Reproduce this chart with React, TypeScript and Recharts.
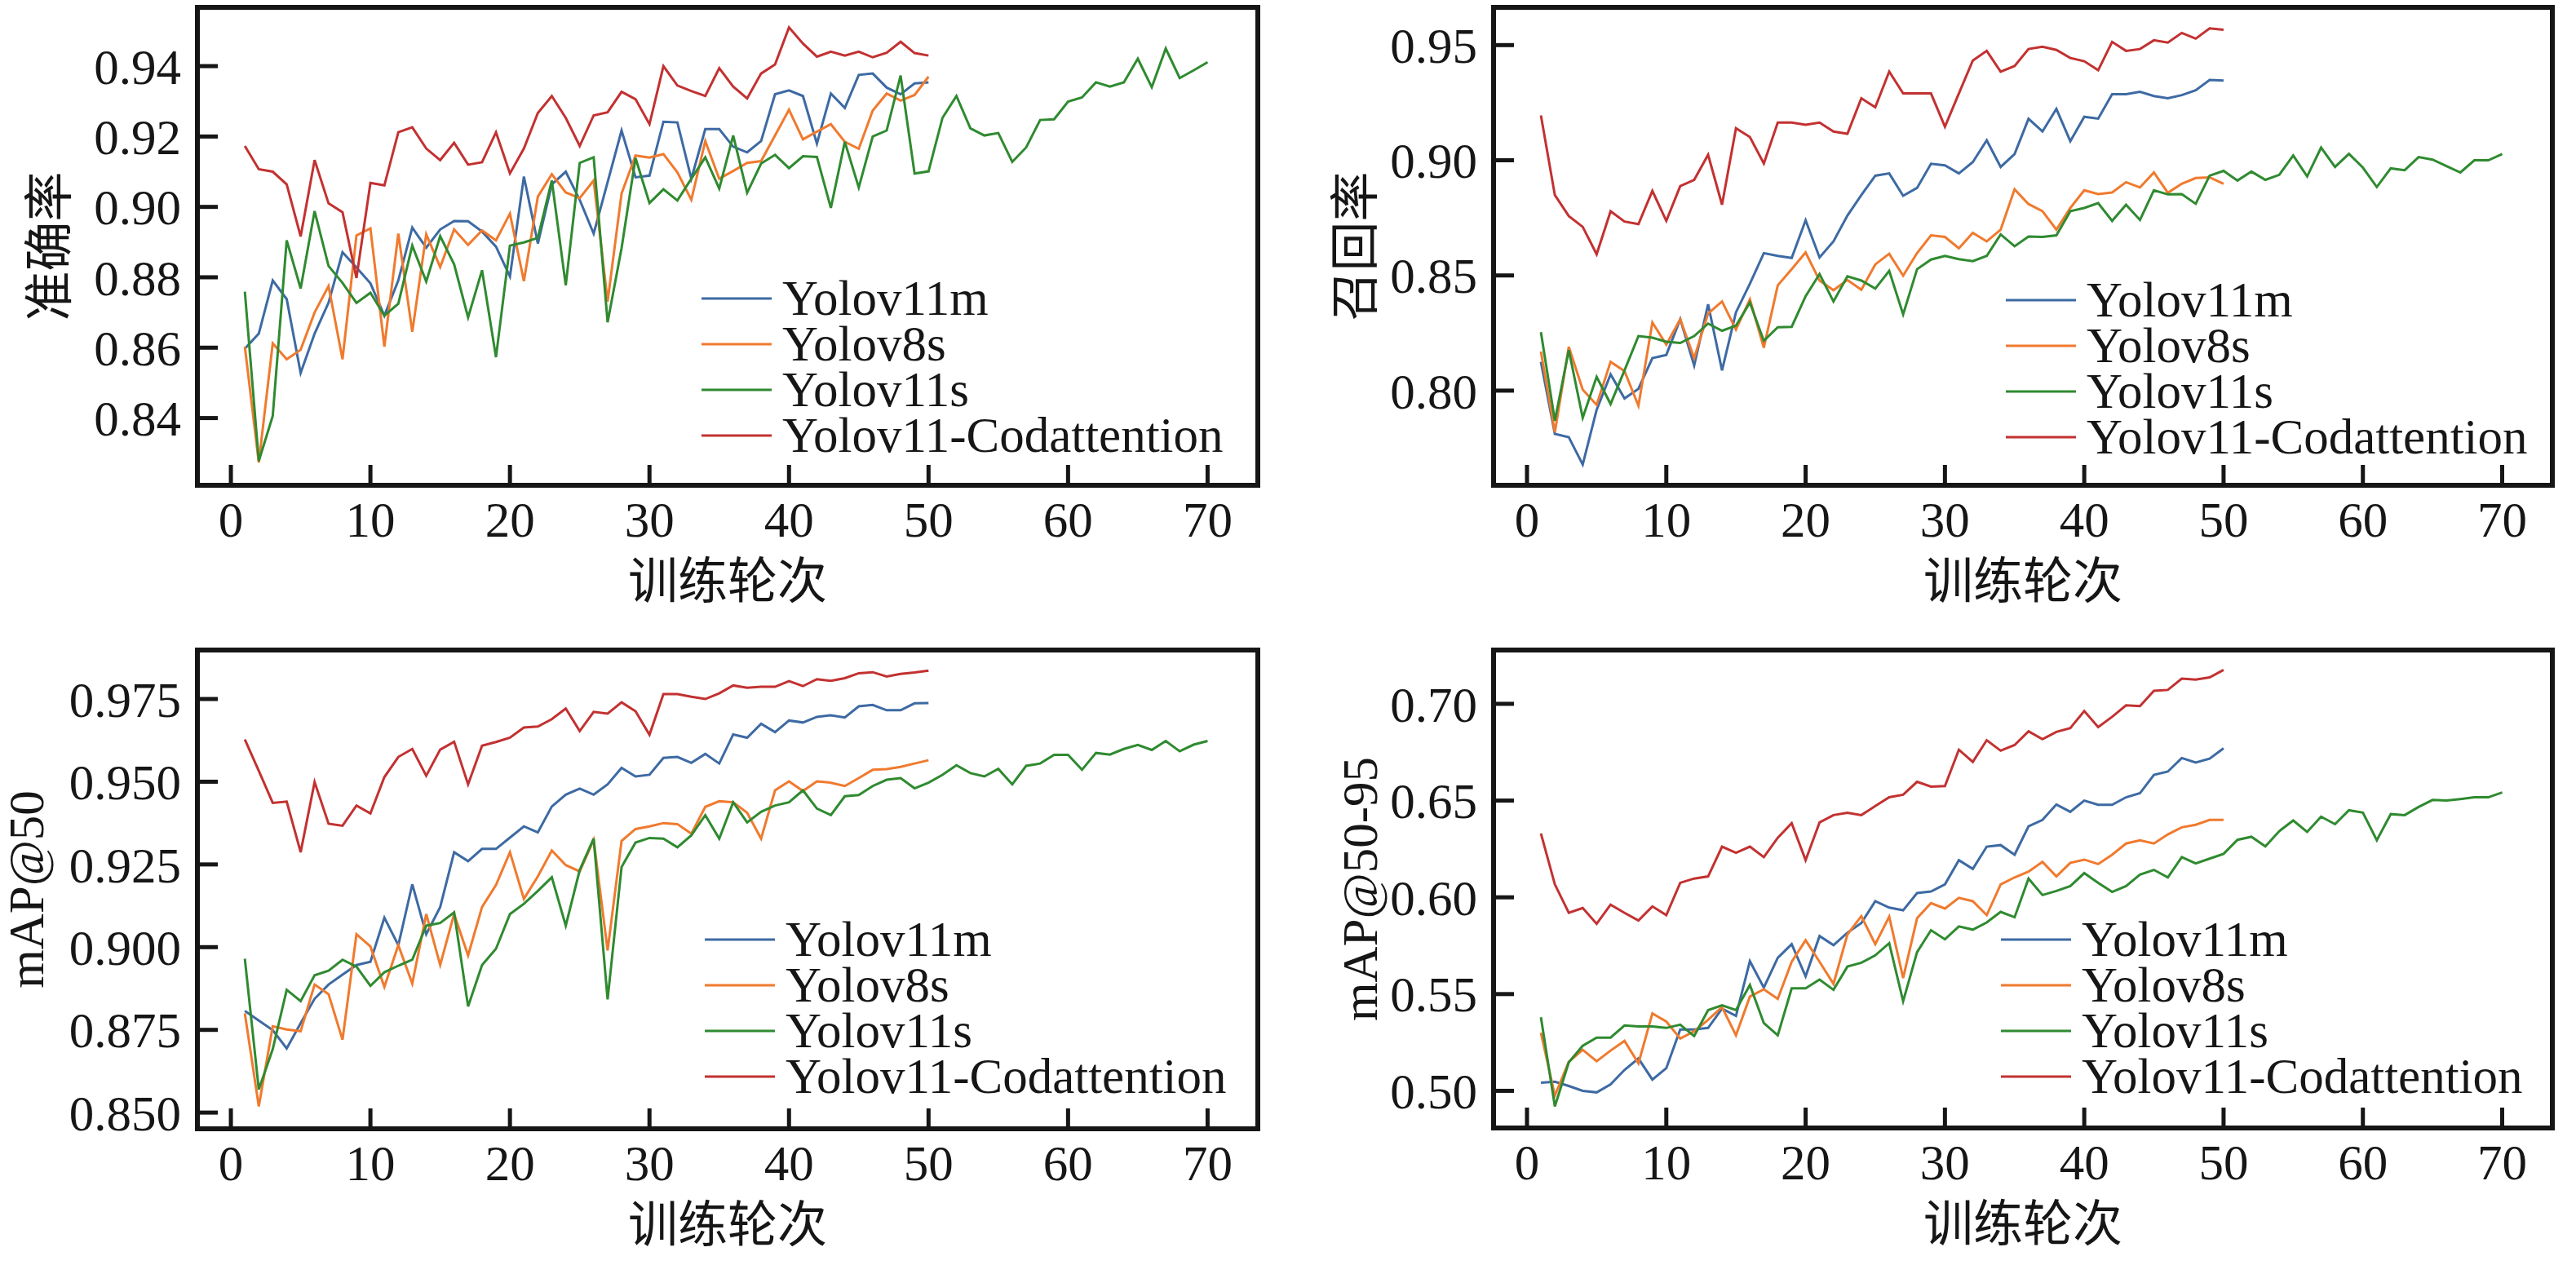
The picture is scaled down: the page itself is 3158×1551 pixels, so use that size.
import React from "react";
import { LineChart, Line, XAxis, YAxis, ReferenceArea, Legend } from "recharts";

// 准确率 (precision)
const precisionV11m = [
  0.8597, 0.864, 0.8791, 0.8738, 0.8528, 0.864, 0.8728, 0.8871, 0.8828, 0.8783,
  0.8691, 0.8791, 0.8941, 0.8884, 0.8936, 0.896, 0.8959, 0.893, 0.8887, 0.8802,
  0.9086, 0.8896, 0.9064, 0.91, 0.902, 0.8924, 0.907, 0.9217, 0.9084, 0.9089,
  0.9242, 0.924, 0.908, 0.9221, 0.9221, 0.9171, 0.9155, 0.9187, 0.932, 0.9331,
  0.9315, 0.918, 0.9322, 0.9281, 0.9375, 0.9379, 0.9339, 0.932, 0.9351, 0.9354,
];
const precisionV8s = [
  0.8603, 0.8274, 0.8612, 0.8567, 0.8594, 0.87, 0.8775, 0.8567, 0.8919, 0.8939,
  0.8603, 0.8924, 0.8645, 0.8922, 0.8829, 0.8936, 0.8892, 0.8933, 0.8905, 0.8981,
  0.8789, 0.9029, 0.9093, 0.9041, 0.9025, 0.9075, 0.8731, 0.9038, 0.9146, 0.914,
  0.915, 0.9098, 0.902, 0.9187, 0.908, 0.9102, 0.9125, 0.913, 0.9203, 0.9276,
  0.9192, 0.9214, 0.9235, 0.9185, 0.9165, 0.9274, 0.9322, 0.9302, 0.9318, 0.937,
];
const precisionV11s = [
  0.8759, 0.8278, 0.8406, 0.8905, 0.8768, 0.8988, 0.8832, 0.8784, 0.8727, 0.8756,
  0.8691, 0.8725, 0.889, 0.8788, 0.8917, 0.8837, 0.8686, 0.882, 0.8573, 0.889,
  0.8899, 0.8912, 0.9075, 0.8777, 0.9125, 0.9141, 0.8672, 0.8883, 0.9139, 0.9011,
  0.905, 0.9018, 0.908, 0.9141, 0.9052, 0.9203, 0.904, 0.9123, 0.9148, 0.911,
  0.9144, 0.9142, 0.8997, 0.9185, 0.9055, 0.92, 0.9217, 0.9373, 0.9095, 0.9101,
  0.9253, 0.9315, 0.9223, 0.9203, 0.921, 0.9128, 0.9169, 0.9247, 0.9249, 0.9299,
  0.9311, 0.9354, 0.9342, 0.9354, 0.9421, 0.934, 0.945, 0.9366, 0.9388, 0.9411,
];
const precisionCod = [
  0.9173, 0.9107, 0.91, 0.9064, 0.8916, 0.9133, 0.901, 0.8985, 0.8798, 0.9068,
  0.9061, 0.9212, 0.9226, 0.9166, 0.9133, 0.9182, 0.912, 0.9127, 0.9212, 0.9095,
  0.9166, 0.9267, 0.9315, 0.9253, 0.9173, 0.926, 0.9269, 0.9327, 0.9306, 0.9235,
  0.94, 0.9345, 0.9329, 0.9315, 0.9394, 0.9342, 0.9308, 0.9379, 0.9405, 0.951,
  0.9464, 0.9427, 0.9441, 0.943, 0.9441, 0.9425, 0.9438, 0.9469, 0.9437, 0.943,
];

// 召回率 (recall)
const recallV11m = [
  0.8125, 0.7812, 0.7798, 0.7679, 0.7917, 0.8071, 0.7966, 0.8008, 0.8141, 0.8155,
  0.831, 0.8109, 0.8375, 0.8088, 0.834, 0.8464, 0.8597, 0.8585, 0.8576, 0.874,
  0.8578, 0.8648, 0.876, 0.8849, 0.8933, 0.8943, 0.8846, 0.888, 0.8985, 0.8978,
  0.8943, 0.8992, 0.9087, 0.8971, 0.9027, 0.918, 0.9125, 0.9223, 0.9083, 0.9189,
  0.9181, 0.9287, 0.9287, 0.9297, 0.9279, 0.9269, 0.9283, 0.9304, 0.9349, 0.9346,
];
const recallV8s = [
  0.817, 0.7819, 0.819, 0.8004, 0.7938, 0.8125, 0.8085, 0.7934, 0.8296, 0.82,
  0.831, 0.8141, 0.8335, 0.8387, 0.8265, 0.8396, 0.8186, 0.8457, 0.8527, 0.86,
  0.8478, 0.8436, 0.848, 0.8438, 0.8548, 0.8594, 0.8499, 0.8597, 0.8674, 0.8667,
  0.8618, 0.8685, 0.8648, 0.8699, 0.8874, 0.881, 0.8779, 0.8699, 0.8793, 0.887,
  0.8853, 0.886, 0.8905, 0.8882, 0.8947, 0.8859, 0.8898, 0.8923, 0.8926, 0.8898,
];
const recallV11s = [
  0.8254, 0.7869, 0.8176, 0.7882, 0.806, 0.7942, 0.8088, 0.8237, 0.823, 0.8212,
  0.8207, 0.8237, 0.8291, 0.826, 0.8282, 0.8382, 0.8216, 0.8275, 0.8277, 0.841,
  0.8506, 0.8387, 0.8496, 0.8478, 0.8443, 0.852, 0.8331, 0.8527, 0.8569, 0.8585,
  0.8571, 0.8562, 0.8585, 0.8678, 0.8627, 0.8669, 0.8667, 0.8674, 0.8779, 0.8793,
  0.8814, 0.8737, 0.8807, 0.8741, 0.887, 0.8852, 0.8853, 0.8811, 0.8933, 0.8954,
  0.8912, 0.8951, 0.8915, 0.8937, 0.9021, 0.893, 0.9055, 0.8971, 0.9028, 0.8968,
  0.8884, 0.8965, 0.8957, 0.9014, 0.9003, 0.8975, 0.8947, 0.9, 0.9, 0.9027,
];
const recallCod = [
  0.9195, 0.8849, 0.8758, 0.8711, 0.8592, 0.8779, 0.8734, 0.8723, 0.8867, 0.8737,
  0.8888, 0.8915, 0.9024, 0.8807, 0.9139, 0.9101, 0.8986, 0.9164, 0.9164, 0.9154,
  0.9164, 0.9125, 0.9115, 0.9269, 0.923, 0.9385, 0.929, 0.929, 0.929, 0.9146,
  0.929, 0.9433, 0.9475, 0.9385, 0.9409, 0.9483, 0.9493, 0.9479, 0.9444, 0.943,
  0.9391, 0.9514, 0.9475, 0.9483, 0.9521, 0.9511, 0.9553, 0.9528, 0.9573, 0.9567,
];

// mAP@50
const map50V11m = [
  0.8807, 0.8778, 0.8749, 0.8694, 0.877, 0.8844, 0.8887, 0.8917, 0.8946, 0.8956,
  0.9089, 0.9006, 0.919, 0.9039, 0.9121, 0.9287, 0.926, 0.9297, 0.9297, 0.9331,
  0.9365, 0.9347, 0.9425, 0.9461, 0.9479, 0.9461, 0.9492, 0.9542, 0.9516, 0.9521,
  0.9572, 0.9575, 0.9557, 0.9584, 0.9555, 0.9643, 0.9633, 0.9675, 0.965, 0.9685,
  0.9679, 0.9696, 0.9701, 0.9694, 0.9728, 0.9732, 0.9716, 0.9716, 0.9737, 0.9738,
];
const map50V8s = [
  0.88, 0.8519, 0.8761, 0.8751, 0.8746, 0.8887, 0.8858, 0.872, 0.9039, 0.9002,
  0.888, 0.9006, 0.889, 0.91, 0.8946, 0.91, 0.8975, 0.9121, 0.9188, 0.9287,
  0.9146, 0.9214, 0.9292, 0.9248, 0.9229, 0.9324, 0.899, 0.9321, 0.9357, 0.9365,
  0.9375, 0.9372, 0.9343, 0.9424, 0.9441, 0.9438, 0.9406, 0.9328, 0.9474, 0.9501,
  0.9472, 0.9501, 0.9497, 0.9487, 0.9511, 0.9536, 0.9538, 0.9545, 0.9555, 0.9565,
];
const map50V11s = [
  0.8965, 0.857, 0.8692, 0.8871, 0.8837, 0.8915, 0.8929, 0.8962, 0.8941, 0.8883,
  0.8924, 0.8944, 0.8962, 0.9065, 0.9073, 0.9105, 0.8821, 0.8946, 0.8995, 0.91,
  0.9131, 0.917, 0.9211, 0.9065, 0.9233, 0.9328, 0.8842, 0.9242, 0.9316, 0.933,
  0.9328, 0.9302, 0.9338, 0.9399, 0.9328, 0.9438, 0.9377, 0.9409, 0.9428, 0.9438,
  0.9474, 0.9419, 0.9399, 0.9456, 0.946, 0.9487, 0.9506, 0.9511, 0.948, 0.9497,
  0.9521, 0.955, 0.9526, 0.9516, 0.9539, 0.9492, 0.9548, 0.9555, 0.9581, 0.9581,
  0.9536, 0.9587, 0.9582, 0.9599, 0.9611, 0.9596, 0.9623, 0.9592, 0.9612, 0.9623,
];
const map50Cod = [
  0.9628, 0.9533, 0.9436, 0.944, 0.9287, 0.9499, 0.9373, 0.9367, 0.9428, 0.9404,
  0.9514, 0.9575, 0.9599, 0.9518, 0.9597, 0.9621, 0.9492, 0.9609, 0.962, 0.9633,
  0.9664, 0.9667, 0.9689, 0.9721, 0.9653, 0.9711, 0.9706, 0.974, 0.9713, 0.9642,
  0.9765, 0.9765, 0.9757, 0.975, 0.9767, 0.9791, 0.9784, 0.9787, 0.9787, 0.9804,
  0.9789, 0.981, 0.9805, 0.9813, 0.9828, 0.9831, 0.9818, 0.9826, 0.983, 0.9836,
];

// mAP@50-95
const map5095V11m = [
  0.5042, 0.5047, 0.5025, 0.5, 0.4992, 0.5033, 0.5108, 0.5167, 0.5058, 0.5117,
  0.5317, 0.5317, 0.5325, 0.5425, 0.5387, 0.567, 0.5533, 0.5687, 0.5758, 0.5592,
  0.58, 0.5753, 0.5817, 0.5867, 0.598, 0.5947, 0.5933, 0.6022, 0.603, 0.6067,
  0.6192, 0.6147, 0.6262, 0.627, 0.622, 0.6367, 0.64, 0.648, 0.6442, 0.65,
  0.6478, 0.6478, 0.6517, 0.6538, 0.6633, 0.665, 0.672, 0.6697, 0.6717, 0.677,
];
const map5095V8s = [
  0.53, 0.4975, 0.515, 0.5212, 0.5153, 0.5208, 0.5258, 0.5142, 0.54, 0.5358,
  0.527, 0.5308, 0.5367, 0.5433, 0.5287, 0.5487, 0.5525, 0.5475, 0.5667, 0.5778,
  0.5667, 0.5553, 0.5808, 0.5903, 0.5758, 0.59, 0.5583, 0.5892, 0.597, 0.5942,
  0.5997, 0.598, 0.5908, 0.6067, 0.6103, 0.6133, 0.6183, 0.6108, 0.6178, 0.6195,
  0.6172, 0.622, 0.6278, 0.6295, 0.6278, 0.6325, 0.6362, 0.6375, 0.64, 0.64,
];
const map5095V11s = [
  0.538, 0.492, 0.5147, 0.5233, 0.5275, 0.5275, 0.5338, 0.5333, 0.5333, 0.5325,
  0.5342, 0.5283, 0.5417, 0.5442, 0.5417, 0.5547, 0.535, 0.5287, 0.553, 0.553,
  0.5575, 0.5522, 0.5642, 0.5662, 0.57, 0.5763, 0.5463, 0.5717, 0.583, 0.5783,
  0.585, 0.5833, 0.587, 0.5925, 0.5897, 0.6097, 0.6012, 0.6033, 0.6058, 0.6125,
  0.6075, 0.6028, 0.6058, 0.6117, 0.6142, 0.6103, 0.6208, 0.6175, 0.62, 0.6225,
  0.6297, 0.6313, 0.6263, 0.6342, 0.6397, 0.6338, 0.6417, 0.6378, 0.645, 0.6438,
  0.6295, 0.643, 0.6425, 0.6467, 0.6503, 0.65, 0.6508, 0.6517, 0.6517, 0.6542,
];
const map5095Cod = [
  0.633, 0.6067, 0.592, 0.5945, 0.5863, 0.5962, 0.592, 0.588, 0.5953, 0.5908,
  0.6075, 0.6097, 0.6108, 0.6262, 0.623, 0.6262, 0.6208, 0.6308, 0.6383, 0.6192,
  0.6387, 0.6425, 0.6437, 0.6425, 0.6472, 0.6517, 0.653, 0.6597, 0.6572, 0.6575,
  0.6763, 0.67, 0.6812, 0.6758, 0.6787, 0.6858, 0.6817, 0.6855, 0.6875, 0.6963,
  0.688, 0.6933, 0.6992, 0.6988, 0.7067, 0.7072, 0.713, 0.7125, 0.7137, 0.7175,
];

const xTicks = [0, 10, 20, 30, 40, 50, 60, 70];
const precisionTicks = [0.84, 0.86, 0.88, 0.9, 0.92, 0.94];
const recallTicks = [0.8, 0.85, 0.9, 0.95];
const map50Ticks = [0.85, 0.875, 0.9, 0.925, 0.95, 0.975];
const map5095Ticks = [0.5, 0.55, 0.6, 0.65, 0.7];

const SERIES = [
  { key: "v11m", name: "Yolov11m", color: "#3d6aa3" },
  { key: "v8s", name: "Yolov8s", color: "#f07a2e" },
  { key: "v11s", name: "Yolov11s", color: "#2f8a30" },
  { key: "cod", name: "Yolov11-Codattention", color: "#c33131" },
];

const X_DOMAIN: [number, number] = [-2.4, 73.6];
const SERIF = "Liberation Serif";
const CJK = "Noto Sans CJK SC";
const INK = "#161616";

function buildRows(v11m: number[], v8s: number[], v11s: number[], cod: number[]) {
  const n = Math.max(v11m.length, v8s.length, v11s.length, cod.length);
  return Array.from({ length: n }, (_, i) => ({
    epoch: i + 1,
    v11m: v11m[i],
    v8s: v8s[i],
    v11s: v11s[i],
    cod: cod[i],
  }));
}

function LegendBox() {
  return (
    <div style={{ fontFamily: SERIF, fontSize: 61, lineHeight: "56px", color: INK }}>
      {SERIES.map((s) => (
        <div key={s.key} style={{ display: "flex", alignItems: "center", height: 56, whiteSpace: "nowrap" }}>
          <svg width={86} height={8} style={{ marginRight: 13, display: "block" }}>
            <line x1={0} y1={4} x2={86} y2={4} stroke={s.color} strokeWidth={3} />
          </svg>
          <span style={{ display: "inline-block", height: 56, lineHeight: "56px", overflow: "visible" }}>
            {s.name}
          </span>
        </div>
      ))}
    </div>
  );
}

// tick text drawn by hand so the serif face is applied
function XTick(props: any) {
  const { x, y, payload } = props;
  return (
    <text x={x} y={y} dy="0.71em" textAnchor="middle" fill={INK} style={{ fontFamily: SERIF, fontSize: 61 }}>
      {payload.value}
    </text>
  );
}

function makeYTick(decimals: number) {
  return function YTick(props: any) {
    const { x, y, payload } = props;
    return (
      <text x={x} y={y} dy="0.355em" textAnchor="end" fill={INK} style={{ fontFamily: SERIF, fontSize: 61 }}>
        {Number(payload.value).toFixed(decimals)}
      </text>
    );
  };
}

type PanelProps = {
  left: number;
  top: number;
  marginTop: number;
  yAxisWidth: number;
  plotWidth: number;
  plotHeight: number;
  rows: ReturnType<typeof buildRows>;
  yDomain: [number, number];
  yTicks: number[];
  decimals: number;
  yLabel: string;
  yLabelFont: string;
  yLabelOffset: number;
  legendLeft: number;
  legendTop: number;
};

function Panel(p: PanelProps) {
  const xAxisHeight = 150;
  const bottom = 14;
  const width = p.yAxisWidth + p.plotWidth + 20;
  const height = p.marginTop + p.plotHeight + xAxisHeight + bottom;
  const YTick = makeYTick(p.decimals);
  return (
    <div style={{ position: "absolute", left: p.left, top: p.top }}>
      <LineChart
        width={width}
        height={height}
        data={p.rows}
        margin={{ top: p.marginTop, right: 20, left: 0, bottom }}
      >
        <XAxis
          dataKey="epoch"
          type="number"
          domain={X_DOMAIN}
          allowDataOverflow
          ticks={xTicks}
          height={xAxisHeight}
          axisLine={false}
          tickSize={-25}
          tickMargin={45}
          tickLine={{ stroke: INK, strokeWidth: 5 }}
          tick={<XTick />}
          label={{
            value: "训练轮次",
            position: "insideBottom",
            offset: 11,
            style: { fontFamily: CJK, fontSize: 61, fill: INK },
          }}
        />
        <YAxis
          type="number"
          domain={p.yDomain}
          allowDataOverflow
          ticks={p.yTicks}
          width={p.yAxisWidth}
          axisLine={false}
          tickSize={-25}
          tickMargin={45}
          tickLine={{ stroke: INK, strokeWidth: 5 }}
          tick={<YTick />}
          label={{
            value: p.yLabel,
            angle: -90,
            position: "insideLeft",
            offset: p.yLabelOffset,
            style: { fontFamily: p.yLabelFont, fontSize: 61, fill: INK, textAnchor: "middle" },
          }}
        />
        <ReferenceArea
          x1={X_DOMAIN[0]}
          x2={X_DOMAIN[1]}
          y1={p.yDomain[0]}
          y2={p.yDomain[1]}
          fill="none"
          fillOpacity={0}
          stroke={INK}
          strokeWidth={6}
          ifOverflow="visible"
        />
        {SERIES.map((s) => (
          <Line
            key={s.key}
            dataKey={s.key}
            name={s.name}
            type="linear"
            stroke={s.color}
            strokeWidth={3}
            dot={false}
            activeDot={false}
            isAnimationActive={false}
          />
        ))}
        <Legend
          layout="vertical"
          align="center"
          verticalAlign="middle"
          wrapperStyle={{ left: p.legendLeft, top: p.legendTop, width: "auto", height: "auto" }}
          content={() => <LegendBox />}
        />
      </LineChart>
    </div>
  );
}

export default function App() {
  return (
    <div
      style={{
        position: "absolute",
        left: 0,
        top: 0,
        width: 3158,
        height: 1551,
        background: "#fff",
        overflow: "hidden",
      }}
    >
      <Panel
        left={0}
        top={0}
        marginTop={9}
        yAxisWidth={242}
        plotWidth={1300}
        plotHeight={586}
        rows={buildRows(precisionV11m, precisionV8s, precisionV11s, precisionCod)}
        yDomain={[0.8209, 0.9567]}
        yTicks={precisionTicks}
        decimals={2}
        yLabel="准确率"
        yLabelFont={CJK}
        yLabelOffset={60}
        legendLeft={860}
        legendTop={338}
      />
      <Panel
        left={1560}
        top={0}
        marginTop={9}
        yAxisWidth={271}
        plotWidth={1298}
        plotHeight={586}
        rows={buildRows(recallV11m, recallV8s, recallV11s, recallCod)}
        yDomain={[0.7589, 0.9664]}
        yTicks={recallTicks}
        decimals={2}
        yLabel="召回率"
        yLabelFont={CJK}
        yLabelOffset={101}
        legendLeft={899}
        legendTop={340}
      />
      <Panel
        left={0}
        top={780}
        marginTop={17}
        yAxisWidth={242}
        plotWidth={1300}
        plotHeight={587}
        rows={buildRows(map50V11m, map50V8s, map50V11s, map50Cod)}
        yDomain={[0.8451, 0.9898]}
        yTicks={map50Ticks}
        decimals={3}
        yLabel="mAP@50"
        yLabelFont={SERIF}
        yLabelOffset={31}
        legendLeft={864}
        legendTop={344}
      />
      <Panel
        left={1560}
        top={780}
        marginTop={17}
        yAxisWidth={271}
        plotWidth={1298}
        plotHeight={586}
        rows={buildRows(map5095V11m, map5095V8s, map5095V11s, map5095Cod)}
        yDomain={[0.4808, 0.7278]}
        yTicks={map5095Ticks}
        decimals={2}
        yLabel="mAP@50-95"
        yLabelFont={SERIF}
        yLabelOffset={106}
        legendLeft={893}
        legendTop={344}
      />
    </div>
  );
}
